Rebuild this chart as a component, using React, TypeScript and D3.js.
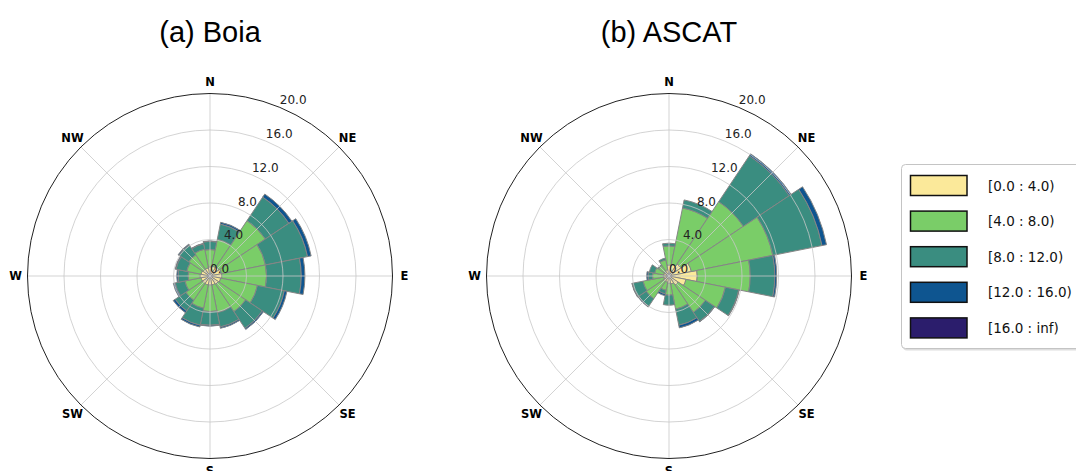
import React from "react";
import * as d3 from "d3";

// Sixteen compass sectors, clockwise from north
const directions = ["N", "NNE", "NE", "ENE", "E", "ESE", "SE", "SSE", "S", "SSW", "SW", "WSW", "W", "WNW", "NW", "NNW"];
const compassLabels = ["N", "NE", "E", "SE", "S", "SW", "W", "NW"];
const speedBins = ["[0.0 : 4.0)", "[4.0 : 8.0)", "[8.0 : 12.0)", "[12.0 : 16.0)", "[16.0 : inf)"];
const binColors = ["#fbe99a", "#7acd68", "#3a8d80", "#0e5590", "#2b1d6c"];
const radialTicks = [0, 4, 8, 12, 16, 20];

// Frequency (%) per direction for each speed bin — buoy
const boiaBin0 = [1.0, 1.1, 1.2, 1.3, 1.3, 1.2, 1.1, 1.0, 1.0, 1.0, 1.0, 1.0, 1.1, 1.0, 0.9, 0.9];
const boiaBin1 = [1.9, 3.0, 6.1, 4.9, 4.9, 4.1, 3.6, 3.1, 2.9, 2.6, 2.2, 1.8, 1.3, 1.6, 1.9, 2.1];
const boiaBin2 = [0.9, 1.7, 3.1, 4.7, 3.8, 3.0, 2.2, 1.6, 1.5, 1.9, 1.4, 1.1, 1.1, 1.2, 1.3, 0.6];
const boiaBin3 = [0.05, 0.2, 0.4, 0.4, 0.4, 0.3, 0.15, 0.15, 0.1, 0.2, 0.25, 0.2, 0.15, 0.1, 0.1, 0.05];
const boiaBin4 = [0, 0, 0, 0, 0, 0, 0, 0, 0, 0, 0, 0, 0, 0, 0, 0];

// Frequency (%) per direction for each speed bin — ASCAT
const ascatBin0 = [1.2, 1.3, 1.6, 2.5, 3.1, 1.9, 1.2, 0.9, 0.8, 0.7, 0.7, 0.6, 0.6, 0.6, 0.6, 0.7];
const ascatBin1 = [2.1, 6.3, 8.2, 9.1, 5.8, 4.4, 3.6, 2.8, 1.3, 0.9, 2.3, 2.3, 1.2, 1.0, 0.8, 1.1];
const ascatBin2 = [0.3, 0.9, 6.05, 5.5, 2.7, 1.5, 1.2, 1.8, 1.1, 0.4, 1.0, 1.2, 0.5, 0.6, 0.1, 0.2];
const ascatBin3 = [0, 0, 0.25, 0.5, 0.2, 0.05, 0.05, 0.3, 0, 0.2, 0.1, 0.05, 0.15, 0, 0, 0];
const ascatBin4 = [0, 0, 0, 0, 0, 0, 0, 0, 0, 0, 0, 0, 0, 0, 0, 0];

const boiaBins = [boiaBin0, boiaBin1, boiaBin2, boiaBin3, boiaBin4];
const ascatBins = [ascatBin0, ascatBin1, ascatBin2, ascatBin3, ascatBin4];

const W = 1076;
const H = 471;
const R = 182.5;
const rMax = 20;
const sector = (2 * Math.PI) / directions.length;
const deg = Math.PI / 180;

type RoseProps = { cx: number; cy: number; title: string; bins: number[][] };

function Rose({ cx, cy, title, bins }: RoseProps) {
  const r = d3.scaleLinear().domain([0, rMax]).range([0, R]);
  const rows = directions.map((d, i) => {
    const row: Record<string, number | string> = { dir: d };
    bins.forEach((b, k) => (row["b" + k] = b[i]));
    return row;
  });
  const keys = bins.map((_, k) => "b" + k);
  const series = d3.stack<any>().keys(keys)(rows as any);
  const arc = d3.arc<any>();

  const labelAngle = 22.5 * deg;

  return (
    <g>
      <text
        x={cx}
        y={42}
        textAnchor="middle"
        fontFamily="'Liberation Sans', Arial, sans-serif"
        fontSize={29}
        fill="#000"
      >
        {title}
      </text>
      <g transform={`translate(${cx},${cy})`}>
        {series.map((s, k) =>
          s.map((seg, i) => {
            if (seg[1] - seg[0] <= 0) return null;
            const a0 = i * sector - sector / 2;
            return (
              <path
                key={`${k}-${i}`}
                d={
                  arc({
                    innerRadius: r(seg[0]),
                    outerRadius: r(seg[1]),
                    startAngle: a0,
                    endAngle: a0 + sector,
                  }) as string
                }
                fill={binColors[k]}
                stroke="#858585"
                strokeWidth={1}
              />
            );
          })
        )}
        {/* grid drawn above the bars */}
        {radialTicks.slice(1, -1).map((t) => (
          <circle key={t} r={r(t)} fill="none" stroke="#c8c8c8" strokeWidth={0.8} />
        ))}
        {compassLabels.map((_, i) => {
          const a = i * 45 * deg;
          return (
            <line
              key={i}
              x1={0}
              y1={0}
              x2={R * Math.sin(a)}
              y2={-R * Math.cos(a)}
              stroke="#c8c8c8"
              strokeWidth={0.8}
            />
          );
        })}
        <circle r={R} fill="none" stroke="#222" strokeWidth={1} />
        {compassLabels.map((lab, i) => {
          const a = i * 45 * deg;
          const rl = R + 12;
          return (
            <text
              key={lab}
              x={rl * Math.sin(a)}
              y={-rl * Math.cos(a)}
              textAnchor="middle"
              dominantBaseline="central"
              fontFamily="'DejaVu Sans', sans-serif"
              fontWeight="bold"
              fontSize={11.5}
              fill="#000"
            >
              {lab}
            </text>
          );
        })}
        {radialTicks.map((t) => (
          <text
            key={t}
            x={r(t) * Math.sin(labelAngle)}
            y={-r(t) * Math.cos(labelAngle) - 3}
            textAnchor="start"
            fontFamily="'DejaVu Sans', sans-serif"
            fontSize={12}
            fill="#222"
          >
            {t.toFixed(1)}
          </text>
        ))}
      </g>
    </g>
  );
}

function Legend() {
  const x0 = 901.5;
  const y0 = 164.5;
  const step = 35.6;
  return (
    <g>
      <rect x={x0 + 1.5} y={y0 + 2} width={200} height={184} rx={4} fill="#bdbdbd" opacity={0.5} />
      <rect x={x0} y={y0} width={200} height={184} rx={4} fill="#fff" stroke="#c4c4c4" strokeWidth={1} />
      {speedBins.map((lab, k) => {
        const y = y0 + 11 + k * step;
        return (
          <g key={lab}>
            <rect x={910.5} y={y} width={56.5} height={20} fill={binColors[k]} stroke="#111" strokeWidth={1.5} />
            <text
              x={988}
              y={y + 10}
              dominantBaseline="central"
              fontFamily="'DejaVu Sans', sans-serif"
              fontSize={13.5}
              fill="#111"
            >
              {lab}
            </text>
          </g>
        );
      })}
    </g>
  );
}

export default function App() {
  return (
    <div style={{ position: "absolute", left: 0, top: 0, width: W, height: H, overflow: "hidden", background: "#fff" }}>
      <svg width={W} height={H} viewBox={`0 0 ${W} ${H}`} style={{ display: "block" }}>
        <rect width={W} height={H} fill="#fff" />
        <Rose cx={210} cy={276} title="(a) Boia" bins={boiaBins} />
        <Rose cx={669} cy={276} title="(b) ASCAT" bins={ascatBins} />
        <Legend />
      </svg>
    </div>
  );
}
